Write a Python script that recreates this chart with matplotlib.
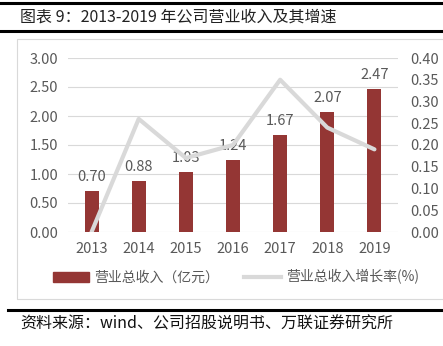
import matplotlib.pyplot as plt
from matplotlib.lines import Line2D
from matplotlib.patches import Rectangle

plt.rcParams['font.family'] = ['Noto Sans CJK SC', 'DejaVu Sans']

years = ['2013', '2014', '2015', '2016', '2017', '2018', '2019']
revenue = [0.70, 0.88, 1.03, 1.24, 1.67, 2.07, 2.47]
growth = [0.00, 0.26, 0.17, 0.20, 0.35, 0.24, 0.19]
left_ticks = [0.0, 0.5, 1.0, 1.5, 2.0, 2.5, 3.0]
right_ticks = [0.0, 0.05, 0.10, 0.15, 0.20, 0.25, 0.30, 0.35, 0.40]

bar_color = '#943634'
line_color = '#d9d9d9'
text_color = '#595959'

W, H = 443, 346
fig = plt.figure(figsize=(W / 100, H / 100), dpi=100)

def fx(px):
    return px / W

def fy(py):
    return 1 - py / H

# header and footer rules
fig.add_artist(Line2D([0, 1], [fy(3), fy(3)], color='black', lw=2.2))
fig.add_artist(Line2D([0, 1], [fy(31), fy(31)], color='black', lw=2.2))
fig.text(fx(20), fy(17), '图表 9：2013-2019 年公司营业收入及其增速', fontsize=11.5,
         va='center', ha='left', color='#222222')
fig.add_artist(Rectangle((fx(17), fy(299)), 1.2, fy(39) - fy(299), fill=False,
                         ec='#d9d9d9', lw=0.8))
fig.add_artist(Line2D([fx(8), 1], [fy(310), fy(310)], color='black', lw=2.2))
fig.text(fx(20), fy(324), '资料来源：wind、公司招股说明书、万联证券研究所', fontsize=11.5,
         va='center', ha='left', color='#111111', style='italic')

ax = fig.add_axes([fx(68), fy(232), fx(330), fy(58) - fy(232)])
x = range(len(years))
ax.bar(x, revenue, width=0.3, color=bar_color, zorder=2)
for xi, v in zip(x, revenue):
    ax.text(xi, v + 0.12, f'{v:.2f}', ha='center', va='bottom', fontsize=10.5, color=text_color)
ax.set_xlim(-0.5, len(years) - 0.5)
ax.set_ylim(0, 3.0)
ax.set_yticks(left_ticks)
ax.set_yticklabels([f'{t:.2f}' for t in left_ticks])
ax.set_xticks(list(x))
ax.set_xticklabels(years)
ax.grid(axis='y', color='#d9d9d9', lw=0.8, zorder=0)
ax.set_axisbelow(True)
for s in ax.spines.values():
    s.set_visible(False)
ax.tick_params(length=0, labelsize=10.5, colors=text_color, pad=7)

ax2 = ax.twinx()
ax2.plot(list(x), growth, color=line_color, lw=3, solid_capstyle='round', zorder=3)
ax2.set_ylim(0, 0.40)
ax2.set_yticks(right_ticks)
ax2.set_yticklabels([f'{t:.2f}' for t in right_ticks])
for s in ax2.spines.values():
    s.set_visible(False)
ax2.tick_params(length=0, labelsize=10.5, colors=text_color, pad=9)

handles = [Rectangle((0, 0), 1, 1, color=bar_color),
           Line2D([0], [0], color=line_color, lw=3)]
fig.legend(handles, ['营业总收入（亿元）', '营业总收入增长率(%)'], loc='center',
           bbox_to_anchor=(fx(236), fy(277)), ncol=2, frameon=False, fontsize=10,
           labelcolor=text_color, handlelength=2.6, columnspacing=1.8, handletextpad=0.4)

fig.savefig('out.png', dpi=100)
